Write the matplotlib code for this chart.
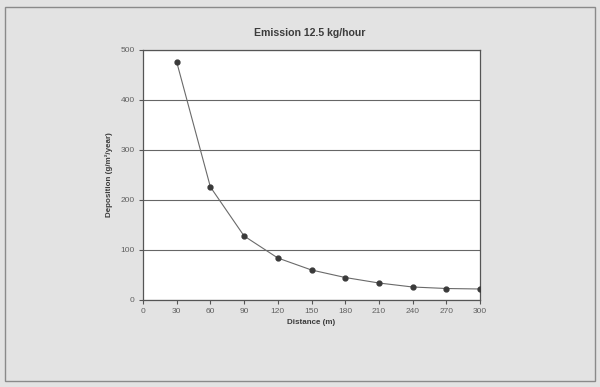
import matplotlib
matplotlib.use("Agg")
import matplotlib.pyplot as plt
from matplotlib.patches import Rectangle

distance = [30, 60, 90, 120, 150, 180, 210, 240, 270, 300]
deposition = [476, 226, 128, 84, 60, 45, 34, 26, 23, 22]
x_ticks = [0, 30, 60, 90, 120, 150, 180, 210, 240, 270, 300]
y_ticks = [0, 100, 200, 300, 400, 500]

plt.rcParams["font.family"] = ["Liberation Sans", "DejaVu Sans"]

W, H = 600, 387
fig = plt.figure(figsize=(W / 100, H / 100), dpi=100)
fig.patch.set_facecolor("#e3e3e3")

# outer frame around the chart
fig.patches.append(Rectangle((5 / W, 1 - 381 / H), 590 / W, 374 / H,
                             transform=fig.transFigure, fill=False,
                             edgecolor="#8a8a8a", linewidth=1.0))

ax = fig.add_axes([143 / W, 1 - 300 / H, 337 / W, 250 / H])
ax.set_facecolor("white")

ax.plot(distance, deposition, color="#6a6a6a", linewidth=0.8,
        marker="o", markersize=3.5, markerfacecolor="#3a3a3a",
        markeredgecolor="#3a3a3a", zorder=3)

ax.set_xlim(0, 300)
ax.set_ylim(0, 500)
ax.set_xticks(x_ticks)
ax.set_yticks(y_ticks)
ax.yaxis.grid(True, color="#666666", linewidth=0.8)
ax.set_axisbelow(True)

for side in ax.spines.values():
    side.set_color("#555555")
    side.set_linewidth(0.9)

ax.tick_params(axis="both", direction="out", length=3, width=0.8,
               color="#555555", labelsize=6, labelcolor="#606060", pad=3)

ax.set_xlabel("Distance (m)", fontsize=5.8, fontweight="bold",
              color="#3c3c3c", labelpad=2.5)
ax.set_ylabel("Deposition (g/m\u00b2/year)", fontsize=5.8, fontweight="bold",
              color="#3c3c3c", labelpad=5)

fig.text(310 / W, 1 - 33 / H, "Emission 12.5 kg/hour", ha="center",
         va="center", fontsize=7.6, fontweight="bold", color="#3c3c3c")

fig.savefig("out.png", dpi=100, facecolor=fig.get_facecolor())
